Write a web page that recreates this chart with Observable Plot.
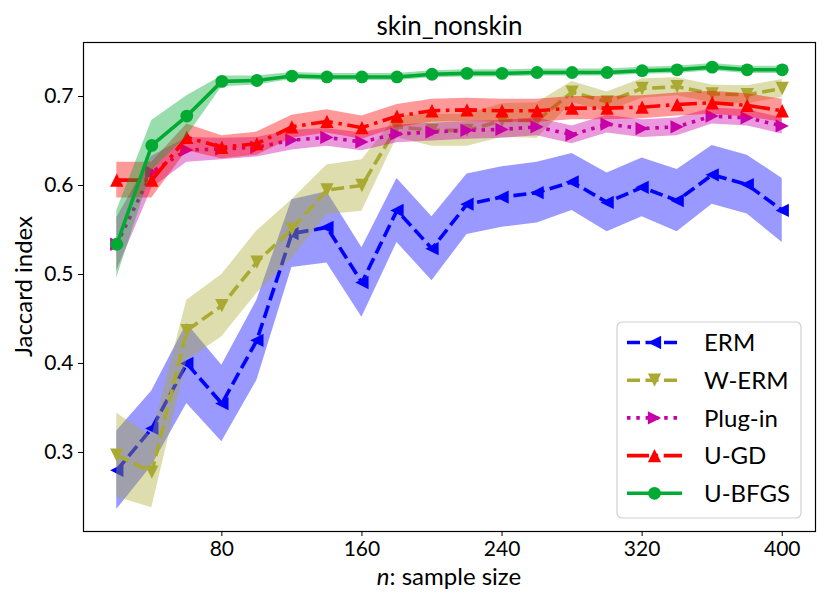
<!DOCTYPE html>
<html><head><meta charset="utf-8">
<script src="https://cdn.jsdelivr.net/npm/d3@7"></script>
<script src="https://cdn.jsdelivr.net/npm/@observablehq/plot@0.6"></script>
<style>
body{margin:0;background:#fff;}
#wrap{position:relative;width:831px;height:607px;font-family:Lato,"DejaVu Sans",sans-serif;}
#wrap svg{position:absolute;left:0;top:0;overflow:visible;}
</style></head><body><div id="wrap"></div>
<script>
// ---------- data ----------
const title = "skin_nonskin";
const xLabel = ["n", ": sample size"];
const yLabel = "Jaccard index";
const sampleSizes = [20,40,60,80,100,120,140,160,180,200,220,240,260,280,300,320,340,360,380,400];
const xTicks = [80,160,240,320,400];
const yTicks = [0.3,0.4,0.5,0.6,0.7];

const seriesNames = ["ERM","W-ERM","Plug-in","U-GD","U-BFGS"];

const ermMean   = [0.280,0.327,0.400,0.355,0.426,0.546,0.553,0.491,0.572,0.529,0.579,0.587,0.592,0.604,0.581,0.598,0.583,0.612,0.601,0.572];
const ermSpread = [0.044,0.042,0.045,0.043,0.045,0.038,0.040,0.039,0.036,0.036,0.034,0.034,0.034,0.032,0.033,0.033,0.035,0.033,0.033,0.036];

const wermMean   = [0.297,0.278,0.437,0.465,0.514,0.551,0.595,0.600,0.666,0.662,0.662,0.673,0.673,0.705,0.694,0.709,0.711,0.703,0.702,0.709];
const wermSpread = [0.047,0.040,0.034,0.035,0.035,0.033,0.028,0.029,0.012,0.018,0.018,0.019,0.020,0.012,0.011,0.011,0.010,0.010,0.010,0.010];

const plugMean   = [0.534,0.615,0.640,0.641,0.643,0.651,0.654,0.649,0.658,0.660,0.662,0.663,0.666,0.657,0.669,0.664,0.666,0.678,0.676,0.667];
const plugSpread = [0.030,0.018,0.014,0.012,0.011,0.011,0.010,0.010,0.010,0.010,0.010,0.010,0.010,0.010,0.010,0.010,0.010,0.009,0.009,0.009];

const ugdMean   = [0.606,0.606,0.654,0.643,0.647,0.666,0.672,0.665,0.678,0.684,0.685,0.684,0.684,0.687,0.687,0.688,0.691,0.693,0.690,0.684];
const ugdSpread = [0.020,0.020,0.015,0.013,0.013,0.013,0.013,0.013,0.013,0.013,0.013,0.013,0.013,0.013,0.013,0.013,0.013,0.013,0.013,0.013];

const bfgsMean   = [0.534,0.645,0.678,0.717,0.718,0.723,0.722,0.722,0.722,0.725,0.726,0.726,0.727,0.727,0.727,0.729,0.730,0.733,0.730,0.730];
const bfgsSpread = [0.038,0.028,0.023,0.006,0.005,0.004,0.004,0.004,0.004,0.004,0.004,0.004,0.004,0.004,0.004,0.004,0.004,0.004,0.004,0.004];

const seriesColors = ["#0000ff","#aaaa33","#c800a8","#ff0000","#00aa33"];
const seriesRotate = [-90,180,90,0,0];
const seriesShape  = ["tri","tri","tri","tri","circle"];
const seriesDash   = ["13,5.5","13,5.5","3.5,5.8","22,5.6,3.5,5.6",null];

// ---------- build ----------
const means = [ermMean,wermMean,plugMean,ugdMean,bfgsMean];
const spreads = [ermSpread,wermSpread,plugSpread,ugdSpread,bfgsSpread];

// matplotlib-like triangle (width = height = marker size)
const mplTriangle = {draw(ctx, size){ const h = Math.sqrt(size/2); ctx.moveTo(0,-h); ctx.lineTo(-h,h); ctx.lineTo(h,h); ctx.closePath(); }};

const W = 831, H = 607;
const mL = 83, mR = 16, mT = 42, mB = 76;
const FONT = 'Lato,"DejaVu Sans",sans-serif';

const marks = [];
seriesNames.forEach((name, k) => {
  const rows = sampleSizes.map((n, i) => ({n, m: means[k][i], lo: means[k][i]-spreads[k][i], hi: means[k][i]+spreads[k][i]}));
  marks.push(Plot.areaY(rows, {x:"n", y1:"lo", y2:"hi", fill: seriesColors[k], fillOpacity: 0.4}));
  marks.push(Plot.line(rows, {x:"n", y:"m", stroke: seriesColors[k], strokeWidth: 3.6,
    strokeDasharray: seriesDash[k] || undefined, strokeLinecap: seriesDash[k] ? "butt" : "round", strokeLinejoin:"round"}));
  marks.push(Plot.dot(rows, {x:"n", y:"m", fill: seriesColors[k], stroke: "none",
    symbol: seriesShape[k] === "tri" ? mplTriangle : "circle",
    r: seriesShape[k] === "tri" ? 5.3 : 6.4, rotate: seriesRotate[k]}));
});

const chart = Plot.plot({
  width: W, height: H,
  marginLeft: mL, marginRight: mR, marginTop: mT, marginBottom: mB,
  style: {fontFamily: FONT, fontSize: "21px", color: "black", background: "white"},
  x: {domain: [1, 419], ticks: xTicks, tickFormat: d => String(d), tickSize: 5, tickPadding: 4, label: null},
  y: {domain: [0.2112, 0.7607], ticks: yTicks, tickFormat: d => d.toFixed(1), tickSize: 5, tickPadding: 4, label: null},
  marks: [
    ...marks,
    Plot.frame({stroke: "black", strokeWidth: 1.2}),
    Plot.axisX({ticks: xTicks, tickFormat: d => String(d), tickSize: 5, tickPadding: 5, label: null, fontSize: 21}),
    Plot.axisY({ticks: yTicks, tickFormat: d => d.toFixed(1), tickSize: 5, tickPadding: 5, label: null, fontSize: 21}),
    Plot.text([title], {text: d => d, frameAnchor: "top", dy: -8, lineAnchor: "bottom", fontSize: 26, fill: "black"})
  ]
});
document.getElementById("wrap").appendChild(chart);

// axis labels (rich text: italic n)
const svg = d3.select(chart);
const cx = mL + (W - mL - mR) / 2, cy = mT + (H - mT - mB) / 2;
const xl = svg.append("text").attr("x", cx).attr("y", 585).attr("text-anchor", "middle")
  .attr("font-size", 24).attr("font-family", FONT).attr("fill", "black");
xl.append("tspan").attr("font-style", "italic").text(xLabel[0]);
xl.append("tspan").text(xLabel[1]);
svg.append("text").attr("transform", `translate(32,${cy}) rotate(-90)`).attr("text-anchor", "middle")
  .attr("font-size", 24).attr("font-family", FONT).attr("fill", "black").text(yLabel);

// legend
const lg = svg.append("g");
const LX = 617, LY = 322, LW = 184, LH = 196;
lg.append("rect").attr("x", LX).attr("y", LY).attr("width", LW).attr("height", LH).attr("rx", 5)
  .attr("fill", "white").attr("fill-opacity", 0.8).attr("stroke", "#d0d0d0").attr("stroke-width", 1.2);
seriesNames.forEach((name, k) => {
  const y = LY + 20.5 + k * 37.7;
  lg.append("line").attr("x1", LX + 10).attr("x2", LX + 65).attr("y1", y).attr("y2", y)
    .attr("stroke", seriesColors[k]).attr("stroke-width", 3.6)
    .attr("stroke-dasharray", seriesDash[k]).attr("stroke-linecap", "butt");
  const sym = seriesShape[k] === "tri" ? mplTriangle : d3.symbolCircle;
  const size = seriesShape[k] === "tri" ? Math.PI*5.3*5.3 : Math.PI*6.4*6.4;
  lg.append("path").attr("d", d3.symbol(sym, size)())
    .attr("transform", `translate(${LX + 37.5},${y}) rotate(${seriesRotate[k]})`).attr("fill", seriesColors[k]);
  lg.append("text").attr("x", LX + 87).attr("y", y).attr("dy", "0.36em").attr("text-anchor", "start")
    .attr("font-size", 24).attr("font-family", FONT).attr("fill", "black").text(name);
});
</script></body></html>
